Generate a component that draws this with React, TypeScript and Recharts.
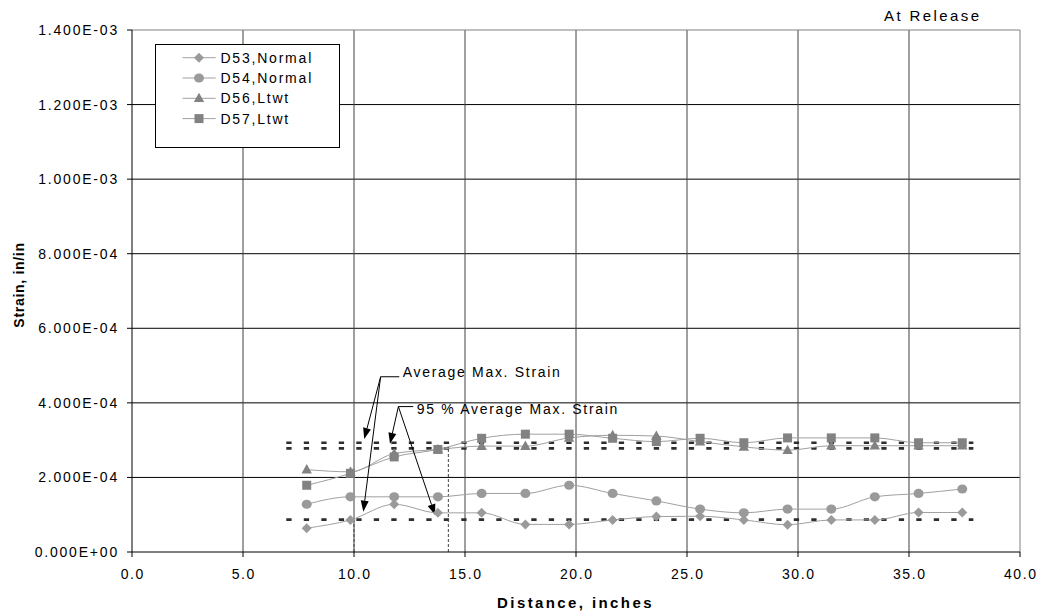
import React from "react";
import {
  LineChart,
  Line,
  XAxis,
  YAxis,
  CartesianGrid,
  ReferenceLine,
  Legend,
} from "recharts";

const FONT = "'Liberation Sans', Arial, sans-serif";

// distance along the member, inches
const distance = [7.87, 9.84, 11.81, 13.78, 15.75, 17.72, 19.69, 21.65, 23.62, 25.59, 27.56, 29.53, 31.5, 33.46, 35.43, 37.4];

// strain, in/in
const d53 = [0.64e-4, 0.86e-4, 1.28e-4, 1.05e-4, 1.05e-4, 0.74e-4, 0.74e-4, 0.86e-4, 0.95e-4, 0.96e-4, 0.86e-4, 0.73e-4, 0.86e-4, 0.86e-4, 1.06e-4, 1.06e-4];
const d54 = [1.28e-4, 1.48e-4, 1.48e-4, 1.48e-4, 1.57e-4, 1.57e-4, 1.79e-4, 1.57e-4, 1.37e-4, 1.15e-4, 1.05e-4, 1.15e-4, 1.15e-4, 1.48e-4, 1.57e-4, 1.69e-4];
const d56 = [2.21e-4, 2.15e-4, 2.64e-4, 2.75e-4, 2.84e-4, 2.84e-4, 3.06e-4, 3.13e-4, 3.11e-4, 2.96e-4, 2.82e-4, 2.73e-4, 2.85e-4, 2.85e-4, 2.85e-4, 2.85e-4];
const d57 = [1.79e-4, 2.11e-4, 2.55e-4, 2.75e-4, 3.05e-4, 3.16e-4, 3.16e-4, 3.05e-4, 2.96e-4, 3.05e-4, 2.93e-4, 3.06e-4, 3.06e-4, 3.06e-4, 2.93e-4, 2.93e-4];

const xTicks = [0, 5, 10, 15, 20, 25, 30, 35, 40];
const yTicks = [0, 2e-4, 4e-4, 6e-4, 8e-4, 10e-4, 12e-4, 14e-4];

// average max strain levels and the 95 % level
const ltwtAvgMax = 2.93e-4;
const ltwt95 = 2.78e-4;
const normalAvgMax = 0.87e-4;
const levelSpan = [6.95, 37.9];

const dropLines = [
  { x: 10, top: normalAvgMax },
  { x: 14.25, top: ltwt95 },
];

const leaders = [
  { text: "Average Max. Strain", from: { x: 11.2, y: 4.7e-4 }, to: { x: 12.04, y: 4.7e-4 }, dy: 0.6 },
  { text: "95 % Average Max. Strain", from: { x: 12.0, y: 3.9e-4 }, to: { x: 12.67, y: 3.9e-4 }, dy: 7.3 },
];

const arrows = [
  { from: { x: 11.2, y: 4.7e-4 }, to: { x: 10.46, y: 3.03e-4 } },
  { from: { x: 11.2, y: 4.7e-4 }, to: { x: 10.42, y: 1.08e-4 } },
  { from: { x: 12.0, y: 3.9e-4 }, to: { x: 11.62, y: 2.9e-4 } },
  { from: { x: 12.0, y: 3.9e-4 }, to: { x: 13.65, y: 0.99e-4 } },
];

const rows = distance.map((d, i) => ({ distance: d, d53: d53[i], d54: d54[i], d56: d56[i], d57: d57[i] }));

const sci = (v: number) => {
  const [m, e] = v.toExponential(3).split("e");
  const n = Number(e);
  return `${m}E${n < 0 ? "-" : "+"}${String(Math.abs(n)).padStart(2, "0")}`;
};

const Marker = ({ kind, cx, cy, fill }: any) => {
  if (cx == null || cy == null) return null;
  if (kind === "diamond")
    return <polygon points={`${cx},${cy - 5} ${cx + 5},${cy} ${cx},${cy + 5} ${cx - 5},${cy}`} fill={fill} />;
  if (kind === "circle") return <ellipse cx={cx} cy={cy} rx={5} ry={4.6} fill={fill} />;
  if (kind === "triangle")
    return <polygon points={`${cx},${cy - 5.5} ${cx + 5.2},${cy + 3.8} ${cx - 5.2},${cy + 3.8}`} fill={fill} />;
  return <rect x={cx - 4.5} y={cy - 4.5} width={9} height={9} fill={fill} />;
};

const series = [
  { key: "d53", name: "D53,Normal", kind: "diamond", fill: "#9a9a9a" },
  { key: "d54", name: "D54,Normal", kind: "circle", fill: "#9a9a9a" },
  { key: "d56", name: "D56,Ltwt", kind: "triangle", fill: "#828282" },
  { key: "d57", name: "D57,Ltwt", kind: "square", fill: "#828282" },
];

const YTick = ({ x, y, payload }: any) => (
  <text x={x - 6} y={y} dy={5} textAnchor="end" fontSize={14} letterSpacing={1.8} fontFamily={FONT} fill="#000">
    {sci(payload.value)}
  </text>
);

const XTick = ({ x, y, payload }: any) => (
  <text x={x + 0.8} y={y + 20} textAnchor="middle" fontSize={14} letterSpacing={1.6} fontFamily={FONT} fill="#000">
    {payload.value.toFixed(1)}
  </text>
);

const ArrowShape = ({ x1, y1, x2, y2 }: any) => {
  const a = Math.atan2(y2 - y1, x2 - x1);
  const len = 11;
  const w = 4;
  const bx = x2 - len * Math.cos(a);
  const by = y2 - len * Math.sin(a);
  const px = -Math.sin(a) * w;
  const py = Math.cos(a) * w;
  return (
    <g>
      <line x1={x1} y1={y1} x2={bx} y2={by} stroke="#000" strokeWidth={1} />
      <polygon points={`${x2},${y2} ${bx + px},${by + py} ${bx - px},${by - py}`} fill="#000" />
    </g>
  );
};

const leaderShape = (text: string, dy: number) => ({ x1, y1, x2, y2 }: any) => (
  <g>
    <line x1={x1} y1={y1} x2={x2} y2={y2} stroke="#000" strokeWidth={1} />
    <text x={x2 + 3.4} y={y2 + dy} fontSize={14} letterSpacing={1.7} fontFamily={FONT} fill="#000">
      {text}
    </text>
  </g>
);

const renderLegend = () => (
  <svg width={185} height={104} style={{ display: "block" }}>
    <rect x={0.5} y={0.5} width={184} height={103} fill="#fff" stroke="#000" />
    {series.map((s, i) => {
      const cy = 13.7 + i * 20.3;
      return (
        <g key={s.key}>
          <line x1={27.5} y1={cy} x2={60.7} y2={cy} stroke="#a0a0a0" />
          <Marker kind={s.kind} cx={44} cy={cy} fill={s.fill} />
          <text x={65.4} y={cy + 5} fontSize={14} letterSpacing={1.8} fontFamily={FONT} fill="#000">
            {s.name}
          </text>
        </g>
      );
    })}
  </svg>
);

export default function App() {
  return (
    <div style={{ position: "absolute", left: 0, top: 0, width: 1041, height: 615, background: "#fff" }}>
      <LineChart width={1041} height={615} data={rows} margin={{ top: 30, right: 21, bottom: 0, left: 0 }}>
        <CartesianGrid vertical={false} stroke="#000" horizontalValues={yTicks.slice(1, -1)} />
        <CartesianGrid horizontal={false} stroke="#404040" verticalValues={xTicks.slice(1, -1)} />
        <XAxis
          dataKey="distance"
          type="number"
          domain={[0, 40]}
          ticks={xTicks}
          interval={0}
          height={63}
          stroke="#000"
          tickSize={5}
          tick={<XTick />}
        />
        <YAxis
          type="number"
          domain={[0, 14e-4]}
          ticks={yTicks}
          interval={0}
          width={132}
          stroke="#000"
          tickSize={5}
          tick={<YTick />}
        />
        <ReferenceLine y={14e-4} stroke="#808080" />
        <ReferenceLine x={40} stroke="#808080" />
        {[ltwtAvgMax, ltwt95, normalAvgMax].map((lv, i) => (
          <ReferenceLine
            key={`lv-${i}`}
            segment={[
              { x: levelSpan[0], y: lv },
              { x: levelSpan[1], y: lv },
            ]}
            stroke="#2e2e2e"
            strokeWidth={2.7}
            strokeDasharray="5.3 12.2"
          />
        ))}
        {dropLines.map((d, i) => (
          <ReferenceLine
            key={`drop-${i}`}
            segment={[
              { x: d.x, y: 0 },
              { x: d.x, y: d.top },
            ]}
            stroke="#444"
            strokeDasharray="3 2"
          />
        ))}
        {series.map((s) => (
          <Line
            key={s.key}
            dataKey={s.key}
            name={s.name}
            type="monotone"
            stroke="#a0a0a0"
            strokeWidth={1}
            isAnimationActive={false}
            dot={(p: any) => <Marker key={`${s.key}-${p.index}`} kind={s.kind} cx={p.cx} cy={p.cy} fill={s.fill} />}
            activeDot={false}
          />
        ))}
        {leaders.map((l, i) => (
          <ReferenceLine key={`ld-${i}`} segment={[l.from, l.to]} shape={leaderShape(l.text, l.dy)} />
        ))}
        {arrows.map((a, i) => (
          <ReferenceLine key={`ar-${i}`} segment={[a.from, a.to]} shape={(p: any) => <ArrowShape {...p} />} />
        ))}
        <Legend
          layout="vertical"
          align="center"
          verticalAlign="middle"
          wrapperStyle={{ left: 155, top: 44, width: 185, height: 104 }}
          content={renderLegend}
        />
      </LineChart>
      <svg width={1041} height={615} style={{ position: "absolute", left: 0, top: 0, pointerEvents: "none" }}>
        <text x={884} y={20.7} fontSize={15} letterSpacing={2.4} fontFamily={FONT} fill="#000">
          At Release
        </text>
        <text x={575.5} y={607.7} textAnchor="middle" fontSize={15} fontWeight="bold" letterSpacing={2.4} fontFamily={FONT} fill="#000">
          Distance, inches
        </text>
        <text transform="translate(24,285) rotate(-90)" textAnchor="middle" fontSize={14} fontWeight="bold" letterSpacing={0.7} fontFamily={FONT} fill="#000">
          Strain, in/in
        </text>
      </svg>
    </div>
  );
}
